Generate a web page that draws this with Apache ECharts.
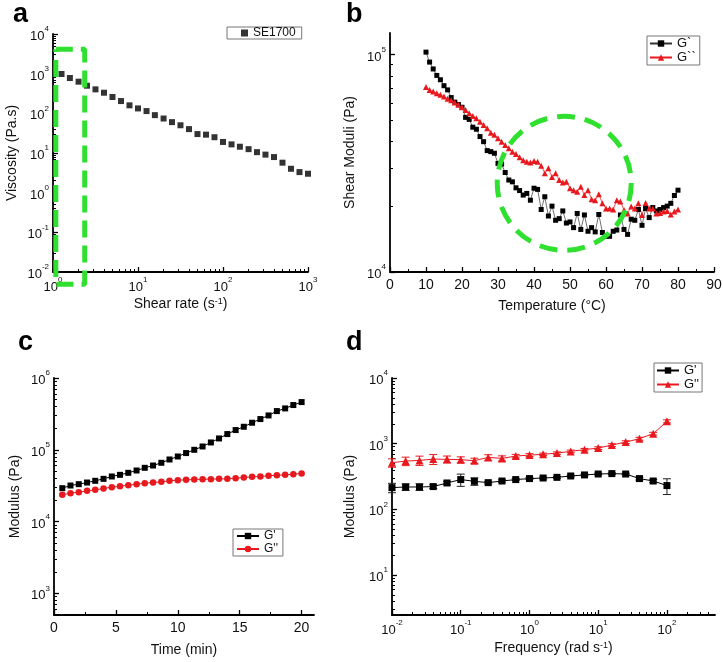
<!DOCTYPE html>
<html><head><meta charset="utf-8">
<script src="https://cdn.jsdelivr.net/npm/echarts@6/dist/echarts.min.js"></script>
<style>html,body{margin:0;padding:0;background:#fff}#c{width:723px;height:662px}</style>
</head><body><div id="c"></div><script>
// ---------- Panel a : viscosity vs shear rate ----------
const shearRate = [1.26,1.58,2.0,2.51,3.16,3.98,5.01,6.31,7.94,10,12.6,15.8,20,25.1,31.6,39.8,50.1,63.1,79.4,100,126,158,200,251,316,398,501,631,794,1000];
const viscosity = [980,776,628,497,402,331,258,204,159,133,114,90,74,60,50,40,30,29,25,19,16.5,14.4,12.5,10.5,9.1,7.9,5.7,4.0,3.3,3.0];
const rectA = [[1.08,4100],[2.36,4100],[2.36,0.0049],[1.08,0.0049],[1.08,4100]];

// ---------- Panel b : shear moduli vs temperature ----------
const tempB = [10,11,12,13,14,15,16,17,18,19,20,21,22,23,24,25,26,27,28,29,30,31,32,33,34,35,36,37,38,39,40,41,42,43,44,45,46,47,48,49,50,51,52,53,54,55,56,57,58,59,60,61,62,63,64,65,66,67,68,69,70,71,72,73,74,75,76,77,78,79,80];
const gPrimeB = [102800,92500,86000,80300,76700,72000,68900,63500,60500,59000,57300,51500,50400,46400,45400,42000,39800,36200,35800,35200,31600,31400,28700,26500,26000,24400,23700,22600,23000,21400,24300,24000,19400,22200,18100,20100,17300,17600,19100,16800,17000,16000,18600,15700,18300,15400,16000,15300,18400,15200,14600,14600,15400,15600,18300,15700,14900,17500,17300,19400,16400,19600,17800,19800,19100,19400,19800,20100,20700,22500,23800];
const gDoubleB = [71000,68900,67700,66500,65400,64200,62800,61700,60200,58800,57300,55700,53800,52300,51000,49200,47500,45900,43800,42800,41300,39800,38400,37100,35800,34900,33700,32700,32200,31900,32400,32200,30800,28500,30000,27400,28500,26500,25800,26000,24300,23800,23400,24700,22600,23800,21600,21400,22800,20700,19600,19600,19400,21400,21100,19300,18600,20000,19600,20700,18300,20800,19600,19600,18600,18700,19000,19100,18400,19000,19400];
const circleB = {center:[48.4, 25600], radius:67};

// ---------- Panel c : modulus vs time ----------
const timeC = [0.67,1.33,2.0,2.67,3.33,4.0,4.67,5.33,6.0,6.67,7.33,8.0,8.67,9.33,10.0,10.67,11.33,12.0,12.67,13.33,14.0,14.67,15.33,16.0,16.67,17.33,18.0,18.67,19.33,20.0];
const gPrimeC = [29200,31800,33200,35000,37000,39400,42500,44800,47800,51500,56100,60400,65900,73300,80700,90000,100000,111200,126500,143900,165600,188300,209300,238200,268000,301000,346000,377000,420000,462000];
const gDoubleC = [23600,24900,25700,26800,27700,28900,30200,31100,32100,33200,34300,35000,35800,37000,37800,38200,38500,39000,39000,39400,39400,40300,41100,42000,42500,43400,44300,44800,45800,46800];

// ---------- Panel d : modulus vs frequency ----------
const freqD = [0.01,0.0158,0.0251,0.0398,0.0631,0.1,0.158,0.251,0.398,0.631,1,1.58,2.51,3.98,6.31,10,15.8,25.1,39.8,63.1,100];
const gPrimeD = [214,219,219,222,252,284,267,255,270,284,294,300,307,322,334,345,350,345,294,270,230];
const gPrimeErrD = [35,25,25,15,15,60,35,12,12,10,10,10,10,10,10,10,10,10,15,15,62];
const gDoubleD = [513,543,556,582,578,570,551,618,597,647,670,687,719,763,811,857,953,1057,1191,1419,2188];
const gDoubleErrD = [75,80,90,100,70,60,50,60,55,40,35,30,30,35,35,40,45,50,60,70,120];

// ---------- tick label sets ----------
const ticksAx = [1,10,100,1000];
const ticksAy = [0.01,0.1,1,10,100,1000,10000];
const ticksBx = [0,10,20,30,40,50,60,70,80,90];
const ticksBy = [10000,100000];
const ticksCx = [0,5,10,15,20];
const ticksCy = [1000,10000,100000,1000000];
const ticksDx = [0.01,0.1,1,10,100];
const ticksDy = [10,100,1000,10000];

const FONT = '"Liberation Sans", Arial, sans-serif';
const RED = '#e8191e';
const GREEN = '#2fe02f';
const zip = (xs, ys) => xs.map((x, i) => [x, ys[i]]);
const errData = (xs, ys, es) => xs.map((x, i) => [x, ys[i] - es[i], ys[i] + es[i]]);

// minor tick positions (2..9 per decade on log axes, midpoints on linear axes)
function logMinors(min, max) {
  const out = [];
  for (let n = Math.floor(Math.log10(min)); n <= Math.ceil(Math.log10(max)); n++) {
    for (let k = 2; k <= 9; k++) {
      const v = +(k * Math.pow(10, n)).toPrecision(6);
      if (v > min && v < max) out.push(v);
    }
  }
  return out;
}
const linMinors = (ticks) => ticks.slice(0, -1).map((t, i) => (t + ticks[i + 1]) / 2);

const rich = {
  b:{fontSize:13,fontFamily:FONT,color:'#111',lineHeight:18,verticalAlign:'bottom'},
  s:{fontSize:8,fontFamily:FONT,color:'#111',lineHeight:9,verticalAlign:'top'}
};
const nameRich = {s:{fontSize:9,fontFamily:FONT,color:'#111',lineHeight:9,verticalAlign:'top'}};
const supFmt = v => '{b|10}{s|' + Math.round(Math.log10(v)) + '}';

function logAxis(grid, min, max, labels, pos, extra) {
  return Object.assign({
    type:'log', logBase:10, gridIndex:grid, min:min, max:max, position:pos,
    axisLine:{show:true, onZero:false, lineStyle:{color:'#000', width:1.8}},
    axisTick:{show:true, inside:true, length:5, lineStyle:{color:'#000', width:1.3}, customValues:labels},
    minorTick:{show:false},
    axisLabel:{customValues:labels, formatter:supFmt, rich:rich, margin:4, color:'#111'},
    splitLine:{show:false}, minorSplitLine:{show:false},
    nameLocation:'middle',
    nameTextStyle:{fontSize:14, fontFamily:FONT, color:'#111', rich:nameRich}
  }, extra);
}
function linAxis(grid, min, max, interval, labels, pos, extra) {
  return Object.assign({
    type:'value', gridIndex:grid, min:min, max:max, interval:interval, position:pos,
    axisLine:{show:true, onZero:false, lineStyle:{color:'#000', width:1.8}},
    axisTick:{show:true, inside:true, length:5, lineStyle:{color:'#000', width:1.3}, customValues:labels},
    minorTick:{show:false},
    axisLabel:{customValues:labels, fontSize:14, fontFamily:FONT, color:'#111', margin:6},
    splitLine:{show:false},
    nameLocation:'middle',
    nameTextStyle:{fontSize:14, fontFamily:FONT, color:'#111', rich:nameRich}
  }, extra);
}
// twin axis carrying only the short minor ticks
function minorAxis(type, grid, min, max, pos, minors) {
  const ax = {
    type:type, gridIndex:grid, min:min, max:max, position:pos,
    axisLine:{show:false}, axisLabel:{show:false}, splitLine:{show:false},
    minorTick:{show:false}, silent:true,
    axisTick:{show:true, inside:true, length:3, lineStyle:{color:'#000', width:1}, customValues:minors}
  };
  if (type === 'log') ax.logBase = 10;
  return ax;
}
const legendBase = {
  orient:'vertical', itemGap:1, borderColor:'#777', borderWidth:1, borderRadius:0,
  backgroundColor:'#fff', itemWidth:22, itemHeight:8,
  textStyle:{fontSize:13, fontFamily:FONT, color:'#111'}
};

const option = {
  animation:false,
  backgroundColor:'#fff',
  title:[
    {text:'a', left:8, top:-4, textStyle:{fontSize:27, fontWeight:'bold', fontFamily:FONT, color:'#000'}},
    {text:'b', left:341, top:-4, textStyle:{fontSize:27, fontWeight:'bold', fontFamily:FONT, color:'#000'}},
    {text:'c', left:13, top:324, textStyle:{fontSize:27, fontWeight:'bold', fontFamily:FONT, color:'#000'}},
    {text:'d', left:341, top:324, textStyle:{fontSize:27, fontWeight:'bold', fontFamily:FONT, color:'#000'}}
  ],
  grid:[
    {left:53, top:34, width:255, height:238, outerBoundsMode:'none'},
    {left:390, top:33, width:324, height:239, outerBoundsMode:'none'},
    {left:54, top:378, width:260, height:237, outerBoundsMode:'none'},
    {left:392, top:378, width:323, height:237, outerBoundsMode:'none'}
  ],
  xAxis:[
    logAxis(0, 1, 1000, ticksAx, 'bottom', {name:'Shear rate (s{s|-1})', nameGap:25}),
    linAxis(1, 0, 90, 10, ticksBx, 'bottom', {name:'Temperature (°C)', nameGap:27}),
    linAxis(2, 0, 21, 5, ticksCx, 'bottom', {name:'Time (min)', nameGap:28}),
    logAxis(3, 0.01, 500, ticksDx, 'bottom', {name:'Frequency (rad s{s|-1})', nameGap:26}),
    minorAxis('log', 0, 1, 1000, 'bottom', logMinors(1, 1000)),
    minorAxis('value', 1, 0, 90, 'bottom', linMinors(ticksBx)),
    minorAxis('value', 2, 0, 21, 'bottom', linMinors(ticksCx)),
    minorAxis('log', 3, 0.01, 500, 'bottom', logMinors(0.01, 500))
  ],
  yAxis:[
    logAxis(0, 0.01, 10000, ticksAy, 'left', {name:'Viscosity (Pa.s)', nameGap:34}),
    logAxis(1, 10000, 125893, ticksBy, 'left', {name:'Shear Moduli (Pa)', nameGap:33}),
    logAxis(2, 500, 1000000, ticksCy, 'left', {name:'Modulus (Pa)', nameGap:32}),
    logAxis(3, 2.46, 10000, ticksDy, 'left', {name:'Modulus (Pa)', nameGap:35}),
    minorAxis('log', 0, 0.01, 10000, 'left', logMinors(0.01, 10000)),
    minorAxis('log', 1, 10000, 125893, 'left', logMinors(10000, 125893)),
    minorAxis('log', 2, 500, 1000000, 'left', logMinors(500, 1000000)),
    minorAxis('log', 3, 2.46, 10000, 'left', logMinors(2.46, 10000))
  ],
  legend:[
    Object.assign({}, legendBase, {data:['SE1700'], left:227, top:27, orient:'horizontal', itemWidth:7, itemHeight:7, icon:'rect', padding:[0,6,0,14], textStyle:{fontSize:12, fontFamily:FONT, color:'#111'}}),
    Object.assign({}, legendBase, {data:['G`','G``'], left:647, top:36, padding:[1,4,1,2]}),
    Object.assign({}, legendBase, {data:["G'","G''"], left:233, top:529, padding:[1,5,1,3], textStyle:{fontSize:12, fontFamily:FONT, color:'#111'}}),
    Object.assign({}, legendBase, {data:["G'\u200b","G''\u200b"], left:654, top:363, padding:[1,3,1,2]})
  ],
  series:[
    {name:'SE1700', type:'scatter', xAxisIndex:0, yAxisIndex:0, data:zip(shearRate, viscosity),
     symbol:'rect', symbolSize:6, itemStyle:{color:'#000'}},
    {name:'boxA', type:'line', xAxisIndex:0, yAxisIndex:0, data:rectA, symbol:'none', clip:false, z:10,
     lineStyle:{color:GREEN, width:5, type:[17,8]}, silent:true},

    {name:'G`', type:'line', xAxisIndex:1, yAxisIndex:1, data:zip(tempB, gPrimeB),
     symbol:'rect', symbolSize:5, itemStyle:{color:'#000'}, lineStyle:{color:'#333', width:0.7}},
    {name:'G``', type:'line', xAxisIndex:1, yAxisIndex:1, data:zip(tempB, gDoubleB),
     symbol:'triangle', symbolSize:6, itemStyle:{color:RED}, lineStyle:{color:RED, width:0.7}},

    {name:"G'", type:'line', xAxisIndex:2, yAxisIndex:2, data:zip(timeC, gPrimeC),
     symbol:'rect', symbolSize:6, itemStyle:{color:'#000'}, lineStyle:{color:'#000', width:1}},
    {name:"G''", type:'line', xAxisIndex:2, yAxisIndex:2, data:zip(timeC, gDoubleC),
     symbol:'circle', symbolSize:6.5, itemStyle:{color:RED}, lineStyle:{color:RED, width:1}},

    {name:'errD1', type:'custom', xAxisIndex:3, yAxisIndex:3, data:errData(freqD, gPrimeD, gPrimeErrD),
     encode:{x:0, y:[1,2]}, itemStyle:{color:'#222'}, z:1, silent:true, renderItem:errRender},
    {name:'errD2', type:'custom', xAxisIndex:3, yAxisIndex:3, data:errData(freqD, gDoubleD, gDoubleErrD),
     encode:{x:0, y:[1,2]}, itemStyle:{color:RED}, z:1, silent:true, renderItem:errRender},
    {name:"G'\u200b", type:'line', xAxisIndex:3, yAxisIndex:3, data:zip(freqD, gPrimeD), z:3,
     symbol:'rect', symbolSize:7, itemStyle:{color:'#000'}, lineStyle:{color:'#000', width:1}},
    {name:"G''\u200b", type:'line', xAxisIndex:3, yAxisIndex:3, data:zip(freqD, gDoubleD), z:3,
     symbol:'triangle', symbolSize:8, itemStyle:{color:RED}, lineStyle:{color:RED, width:1}}
  ]
};

function errRender(params, api) {
  const x = api.value(0), lo = api.value(1), hi = api.value(2);
  const p1 = api.coord([x, hi]), p2 = api.coord([x, lo]);
  const w = 4;
  const style = {stroke: api.visual('color'), lineWidth: 1, fill: null};
  return {type:'group', children:[
    {type:'line', shape:{x1:p1[0], y1:p1[1], x2:p2[0], y2:p2[1]}, style:style},
    {type:'line', shape:{x1:p1[0]-w, y1:p1[1], x2:p1[0]+w, y2:p1[1]}, style:style},
    {type:'line', shape:{x1:p2[0]-w, y1:p2[1], x2:p2[0]+w, y2:p2[1]}, style:style}
  ]};
}

const chart = echarts.init(document.getElementById('c'), null, {renderer:'canvas'});
chart.setOption(option);
const cp = chart.convertToPixel({gridIndex:1}, circleB.center);
chart.setOption({graphic:[{type:'circle', z:100, silent:true,
  shape:{cx:cp[0], cy:cp[1], r:circleB.radius},
  style:{fill:null, stroke:GREEN, lineWidth:5, lineDash:[18,10]}}]});
</script></body></html>
